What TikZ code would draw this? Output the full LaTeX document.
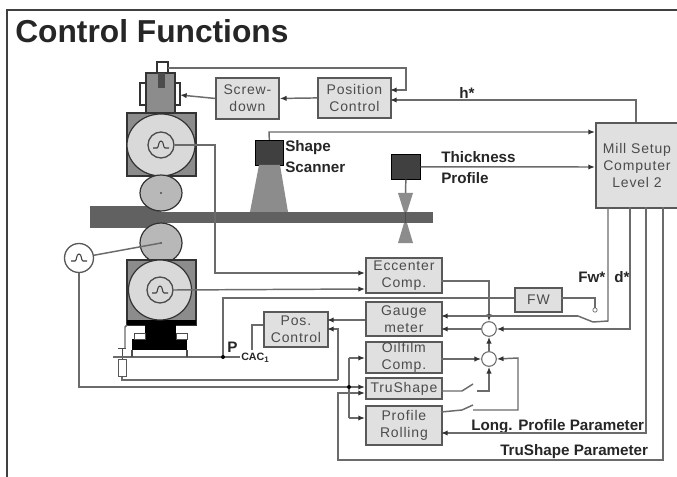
\documentclass[tikz,border=0pt]{standalone}
\usepackage{fontspec}
\setmainfont{Liberation Sans}
\usetikzlibrary{arrows.meta,shapes.geometric}
\definecolor{blockfill}{gray}{0.88}
\definecolor{blockedge}{gray}{0.35}
\definecolor{wire}{gray}{0.42}
\definecolor{darkbox}{gray}{0.25}
\definecolor{midbox}{gray}{0.55}
\definecolor{rollfill}{gray}{0.72}
\definecolor{wheelfill}{gray}{0.85}
\tikzset{
  x=0.75pt,y=-0.75pt,
  blockstyle/.style={draw=blockedge,fill=blockfill,line width=1.4pt,inner sep=0pt,align=center,anchor=north west,
    font=\fontsize{10.5}{12.5}\selectfont\addfontfeature{LetterSpace=6},text=black!70},
  wirestyle/.style={draw=wire,line width=1.1pt},
  arrowwire/.style={wirestyle,-{Latex[length=5pt,width=4pt,black!80]}},
  labelstyle/.style={font=\bfseries\fontsize{11.4}{13}\selectfont,inner sep=0pt,anchor=west,text=black!85},
  junction/.style={circle,draw=wire,fill=white,line width=0.8pt,minimum size=11pt,inner sep=0pt},
  sensorbox/.style={draw=black,fill=darkbox,line width=0.5pt,inner sep=0pt,anchor=north west},
  outline/.style={draw=black!80,line width=0.9pt},
}
\newcommand{\block}[6]{\node[blockstyle,minimum width=#4*0.75pt-#2*0.75pt,minimum height=#5*0.75pt-#3*0.75pt] (#1) at (#2,#3) {#6};}
\newcommand{\pulse}[2]{\draw[black!75,line width=0.8pt] (#1-8,#2+3) -- (#1-4,#2+3) .. controls (#1-2,#2+3) and (#1-3,#2-4) .. (#1,#2-4) .. controls (#1+3,#2-4) and (#1+2,#2+3) .. (#1+4,#2+3) -- (#1+8,#2+3);}
\begin{document}
\begin{tikzpicture}
\useasboundingbox (0,0) rectangle (677,477);
\fill[white] (0,0) rectangle (677,477);
% frame
\draw[black!75,line width=0.9pt] (7,477) -- (7,10) -- (677,10);
\node[font=\bfseries\fontsize{23.8}{26}\selectfont,inner sep=0pt,anchor=west,text=black!85] (title) at (15,31) {Control Functions};

% mill stand: screw-down
\draw[outline,fill=white] (157,62) rectangle (168,75);
\draw[outline,fill=white] (140,83) rectangle (180,105);
\draw[outline,fill=midbox] (146,73) rectangle (175,113);
\fill[black!70] (158,73) rectangle (165,88);
\coordinate (screwtop) at (168,68);
\coordinate (screwside) at (180,95);
% upper backup roll
\draw[outline,fill=midbox] (127,113) rectangle (196,176);
\node[draw=black!80,line width=0.9pt,fill=wheelfill,ellipse,minimum width=68*0.75pt,minimum height=62*0.75pt,inner sep=0pt] (upback) at (161,145) {};
\node[circle,draw=black!70,line width=1pt,minimum size=26*0.75pt,inner sep=0pt] (upmotor) at (161,145) {};
\pulse{161}{145}
% strip
\fill[black!62] (90,206) rectangle (161,228);
\fill[black!62] (161,212) rectangle (433,223);
% work rolls
\node[draw=black!80,line width=0.9pt,fill=rollfill,ellipse,minimum width=42*0.75pt,minimum height=36*0.75pt,inner sep=0pt] (upwork) at (161,193) {};
\fill[black!70] (161,193) circle (1.2);
\node[draw=black!80,line width=0.9pt,fill=rollfill,ellipse,minimum width=42*0.75pt,minimum height=40*0.75pt,inner sep=0pt] (lowwork) at (161,243) {};
\fill[black!70] (161,243) circle (1.2);
% lower backup roll
\draw[outline,fill=midbox] (127,260) rectangle (196,325);
\fill[black] (127,320) rectangle (196,325);
\node[draw=black!80,line width=0.9pt,fill=wheelfill,ellipse,minimum width=63*0.75pt,minimum height=60*0.75pt,inner sep=0pt] (lowback) at (160,290) {};
\node[circle,draw=black!70,line width=1pt,minimum size=26*0.75pt,inner sep=0pt] (lowmotor) at (160,290) {};
\pulse{160}{290}
% hydraulic cylinder
\fill[black] (145,325) rectangle (176,340);
\fill[black] (132,339) rectangle (187,350);
\draw[black!70,fill=white,line width=0.5pt] (134,333) rectangle (145,339);
\draw[black!70,fill=white,line width=0.5pt] (176,333) rectangle (187,339);
% drive motor
\node[circle,draw=black!65,fill=white,line width=1pt,minimum size=29*0.75pt,inner sep=0pt] (drive) at (79,258) {};
\pulse{79}{258}
\draw[wirestyle] (drive) -- (lowwork.center);
% load cell
\node[draw=black!65,fill=white,line width=0.7pt,minimum width=8*0.75pt,minimum height=17*0.75pt,inner sep=0pt] (cell) at (122,368) {};
\coordinate (cellbar) at (122,348);
\draw[black!70,line width=0.7pt] (118,348) -- (126,348);
\draw[black!70,line width=0.7pt] (cellbar) -- (cell.north);
\draw[wirestyle] (125,348) -- (125,327) -- (127,325);
\draw[wirestyle] (113,357) -- (240,357);
\draw[black!70,line width=0.9pt] (132,350) -- (132,357);
\draw[black!70,line width=0.9pt] (187,350) -- (187,357);

% blocks
\block{screw}{215}{77}{278}{118}{Screw-\\down}
\block{posctl}{317}{77}{390}{117}{Position\\Control}
\block{mill}{595}{122}{677}{207}{Mill Setup\\Computer\\Level 2}
\block{ecc}{365}{257}{441}{292}{Eccenter\\Comp.}
\block{gauge}{365}{301}{441}{335}{Gauge\\meter}
\block{oil}{365}{341}{441}{372}{Oilfilm\\Comp.}
\block{tru}{365}{377}{441}{398}{TruShape}
\block{prof}{365}{405}{441}{444}{Profile\\Rolling}
\block{fw}{514}{287}{561}{311}{FW}
\block{pos}{263}{311}{327}{346}{Pos.\\Control}

% scanners
\node[sensorbox,minimum width=28*0.75pt,minimum height=25*0.75pt] (shape) at (255,140) {};
\fill[midbox] (259,165) -- (280,165) -- (288,212) -- (250,212) -- cycle;
\node[sensorbox,minimum width=29*0.75pt,minimum height=25*0.75pt] (thick) at (391,154) {};
\draw[wirestyle] (thick.south) -- (405.5,196);
\fill[midbox] (398,193) -- (413,193) -- (407,212) -- (404,212) -- cycle;
\fill[midbox] (404,223) -- (407,223) -- (413,243) -- (398,243) -- cycle;
\draw[black!70,line width=0.7pt] (405.5,212) -- (405.5,223);

% labels
\node[labelstyle] (lshape) at (285,148) {Shape};
\node[labelstyle] (lscan) at (285,167) {Scanner};
\node[labelstyle] (lthick) at (441,157) {Thickness};
\node[labelstyle] (lprof) at (441,178) {Profile};
\node[labelstyle] (lh) at (459,93) {h*};
\node[labelstyle] (lfw) at (578,277) {Fw*};
\node[labelstyle] (ld) at (614,277) {d*};
\node[labelstyle] (lp) at (227,347) {P};
\node[labelstyle,font=\bfseries\fontsize{8}{9}\selectfont] (lc) at (241,358) {CAC\textsubscript{1}};
\node[labelstyle] (llong) at (471,427) {Long. Profile Parameter};
\node[labelstyle] (ltru) at (500,452) {TruShape Parameter};

% junctions
\node[junction] (j1) at (489,329) {};
\node[junction] (j2) at (489,359) {};

% connectors top
\draw[arrowwire] (screw.west) -- (screwside);
\draw[arrowwire] (posctl.west) -- (screw.east);
\draw[arrowwire] (screwtop) -- (406,68) -- (406,90) -- (390,90);
\draw[arrowwire] (636,122) -- (636,100) -- (390,100);
\draw[arrowwire] (shape.north) -- (269,132) -- (595,132);
\draw[arrowwire] (thick.east) -- (595,167);
% to Eccenter
\draw[arrowwire] (upmotor.east) -- (215,145) -- (215,273) -- (365,273);
\draw[arrowwire] (lowmotor.east) -- (365,289);
% P line
\draw[wirestyle] (514,298) -- (223,298) -- (223,357);
\fill[black] (223,357) circle (2);
\draw[wirestyle] (263,325) -- (252,325) -- (252,350);
% Pos control inputs
\draw[arrowwire] (365,320) -- (327,320);
\draw[arrowwire] (338,380) -- (338,329) -- (327,329);
\draw[wirestyle] (cell.south) -- (122,380) -- (338,380);
% Drive motor
\draw[arrowwire] (drive.south) -- (79,387) -- (365,387);
\draw[wirestyle] (349,358) -- (349,418);
\fill[black] (349,387) circle (2);
\draw[arrowwire] (349,358) -- (365,358);
\draw[arrowwire] (349,418) -- (365,418);
% outputs to junctions
\draw[arrowwire] (441,281) -- (489,281) -- (j1.north);
\draw[arrowwire] (j1.west) -- (441,329);
\draw[arrowwire] (j2.north) -- (j1.south);
\draw[arrowwire] (441,359) -- (j2.west);
\draw[arrowwire] (630,207) -- (630,329) -- (j1.east);
% FW and switch
\coordinate (fwsw) at (595,310);
\draw[wirestyle] (561,298) -- (595,298) -- (fwsw);
\draw[black!60,fill=white,line width=0.5pt] (595,310) circle (2.2);
\draw[wirestyle] (608,207) -- (608,321) -- (593,322) -- (578,316);
\draw[arrowwire] (578,316) -- (441,316);
% switched TruShape / Profile
\draw[wirestyle] (441,391) -- (462,391) -- (473,384);
\draw[arrowwire] (477,391) -- (489,391) -- (j2.south);
\draw[wirestyle] (441,412) -- (462,410) -- (473,405);
\draw[arrowwire] (473,410) -- (518,410) -- (518,358) -- (j2.east);
% Setup parameter lines
\draw[arrowwire] (646,207) -- (646,433) -- (441,433);
\draw[arrowwire] (663,207) -- (663,460) -- (338,460) -- (338,393) -- (365,393);
\end{tikzpicture}
\end{document}
